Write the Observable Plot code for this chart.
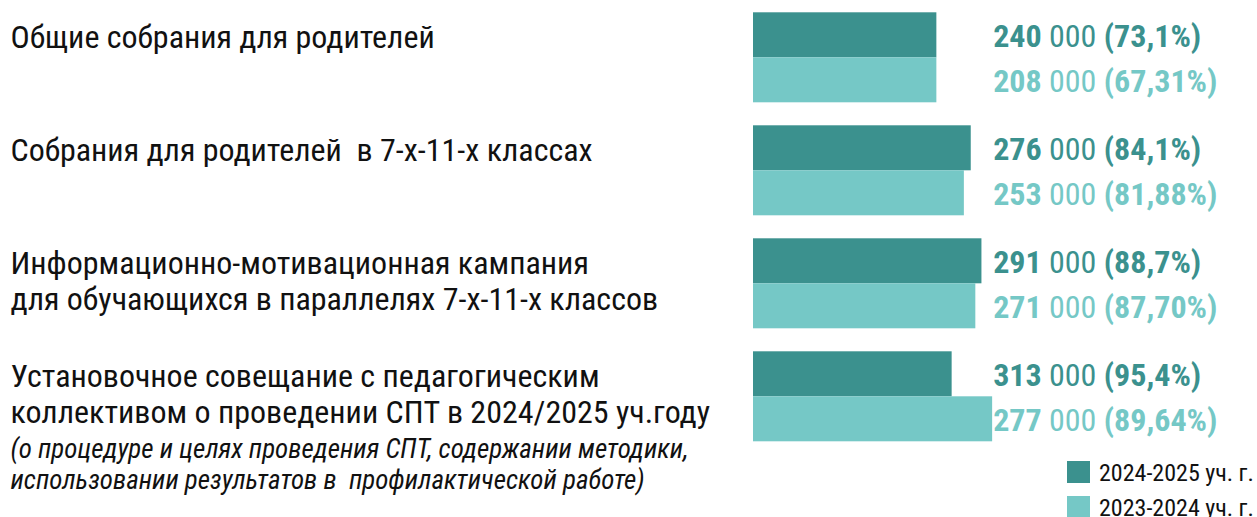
<!DOCTYPE html>
<html>
<head>
<meta charset="utf-8">
<script src="https://cdn.jsdelivr.net/npm/d3@7"></script>
<script src="https://cdn.jsdelivr.net/npm/@observablehq/plot@0.6"></script>
<style>
  html, body { margin: 0; padding: 0; background: #fff; }
  #wrap { position: relative; width: 1257px; height: 517px; overflow: hidden; font-family: "Roboto Condensed", Roboto, sans-serif; }
  #wrap svg text { white-space: pre; }
  .legend { position: absolute; left: 1067px; top: 461px; }
  .legend .item { display: flex; align-items: center; height: 22px; margin-bottom: 13px; }
  .legend .sw { width: 23px; height: 22px; margin-right: 9px; flex: none; }
  .legend .lab { font-size: 24px; color: #111; line-height: 22px; white-space: nowrap; position: relative; top: 1px; }
</style>
</head>
<body>
<div id="wrap"></div>
<script>
// ---- data ----
const labels = [
  "Общие собрания для родителей",
  "Собрания для родителей  в 7-х-11-х классах",
  "Информационно-мотивационная кампания\nдля обучающихся в параллелях 7-х-11-х классов",
  "Установочное совещание с педагогическим\nколлективом о проведении СПТ в 2024/2025 уч.году"
];
const notes = [
  "", "", "",
  "(о процедуре и целях проведения СПТ, содержании методики,\nиспользовании результатов в  профилактической работе)"
];
const series = ["2024-2025 уч. г.", "2023-2024 уч. г."];
const count2024 = [240, 276, 291, 313];           // thousands
const pct2024 = ["73,1", "84,1", "88,7", "95,4"];
const count2023 = [208, 253, 271, 277];           // thousands
const pct2023 = ["67,31", "81,88", "87,70", "89,64"];
// bar lengths as drawn in the source picture (thousands)
const bar2024 = [240, 285, 299, 260];
const bar2023 = [240, 276, 291, 313];
const colors = ["#3b918e", "#75c8c6"];

// ---- derived tables ----
const groupIdx = labels.map((_, i) => i);
const rows = [];
groupIdx.forEach(i => {
  rows.push({g: i, series: series[0], len: bar2024[i], count: count2024[i], pct: pct2024[i]});
  rows.push({g: i, series: series[1], len: bar2023[i], count: count2023[i], pct: pct2023[i]});
});
const groupRows = groupIdx.map(i => ({g: i, label: labels[i], note: notes[i]}));
const labelX = d3.max(rows, d => d.len);

const FONT = '"Roboto Condensed", Roboto, sans-serif';

const chart = Plot.plot({
  width: 1257,
  height: 517,
  marginTop: 10.7,
  marginBottom: 75,
  marginLeft: 10,
  marginRight: 0,
  style: {fontFamily: FONT, background: "#fff"},
  x: {domain: [0, 400], range: [753, 753 + 400 * 0.764], axis: null},
  y: {domain: series, padding: 0, axis: null},
  fy: {domain: groupIdx, paddingInner: 0.187, paddingOuter: 0, axis: null},
  color: {domain: series, range: colors},
  marks: [
    Plot.barX(rows, {fy: "g", y: "series", x1: 0, x2: "len", fill: "series"}),
    Plot.text(rows, {
      fy: "g", y: "series", x: () => labelX,
      text: d => `${d.count} 000 (${d.pct}%)`,
      fill: "series", textAnchor: "start", lineAnchor: "bottom",
      dx: 0.5, dy: 11.5, fontSize: 32
    }),
    Plot.text(groupRows, {
      fy: "g", frameAnchor: "top-left", text: "label",
      textAnchor: "start", lineAnchor: "top", lineHeight: 1.147,
      fontSize: 32, dy: 10, fill: "#111"
    }),
    Plot.text(groupRows.filter(d => d.note), {
      fy: "g", frameAnchor: "bottom-left", text: "note",
      textAnchor: "start", lineAnchor: "top", lineHeight: 1.16,
      fontSize: 27, fontStyle: "italic", dy: -7, fill: "#111"
    })
  ]
});

// mixed weights in value labels: bold number, regular " 000 ", bold percentage
chart.querySelectorAll('text').forEach(t => {
  if (t.children.length) return;
  const m = /^(\d+)( 000 )(\(.*\))$/.exec(t.textContent);
  if (!m) return;
  t.textContent = "";
  [[m[1], "bold"], [m[2], "normal"], [m[3], "bold"]].forEach(([s, w]) => {
    const ts = document.createElementNS("http://www.w3.org/2000/svg", "tspan");
    ts.setAttribute("font-weight", w);
    ts.textContent = s;
    t.appendChild(ts);
  });
});

const wrap = document.getElementById("wrap");
wrap.appendChild(chart);

// legend
const legend = document.createElement("div");
legend.className = "legend";
series.forEach((s, i) => {
  const item = document.createElement("div");
  item.className = "item";
  const sw = document.createElement("div");
  sw.className = "sw";
  sw.style.background = colors[i];
  const lab = document.createElement("div");
  lab.className = "lab";
  lab.textContent = s;
  item.appendChild(sw);
  item.appendChild(lab);
  legend.appendChild(item);
});
wrap.appendChild(legend);
</script>
</body>
</html>
